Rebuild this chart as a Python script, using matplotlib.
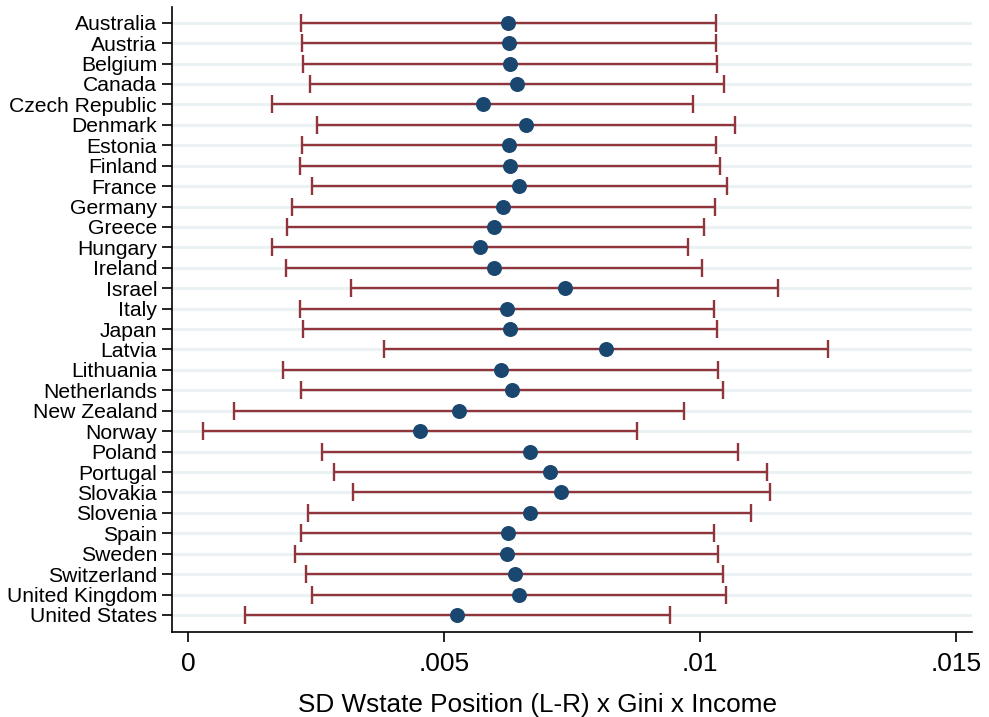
import matplotlib
matplotlib.use("Agg")
import matplotlib.pyplot as plt
import numpy as np

countries = ["Australia", "Austria", "Belgium", "Canada", "Czech Republic", "Denmark",
             "Estonia", "Finland", "France", "Germany", "Greece", "Hungary", "Ireland",
             "Israel", "Italy", "Japan", "Latvia", "Lithuania", "Netherlands",
             "New Zealand", "Norway", "Poland", "Portugal", "Slovakia", "Slovenia",
             "Spain", "Sweden", "Switzerland", "United Kingdom", "United States"]
estimate = [0.006255, 0.006262, 0.006282, 0.006419, 0.005754, 0.006601,
            0.006269, 0.006288, 0.006470, 0.006157, 0.005981, 0.005702, 0.005975,
            0.007357, 0.006229, 0.006282, 0.008165, 0.006110, 0.006321,
            0.005297, 0.004529, 0.006685, 0.007076, 0.007291, 0.006679,
            0.006243, 0.006223, 0.006380, 0.006464, 0.005252]
lower = [0.002203, 0.002216, 0.002242, 0.002385, 0.001636, 0.002516,
         0.002222, 0.002177, 0.002412, 0.002021, 0.001923, 0.001636, 0.001904,
         0.003186, 0.002190, 0.002242, 0.003825, 0.001857, 0.002197,
         0.000893, 0.000281, 0.002619, 0.002842, 0.003213, 0.002334,
         0.002197, 0.002086, 0.002307, 0.002418, 0.001108]
upper = [0.010309, 0.010315, 0.010328, 0.010471, 0.009871, 0.010692,
         0.010321, 0.010393, 0.010536, 0.010289, 0.010074, 0.009761, 0.010047,
         0.011532, 0.010270, 0.010328, 0.012510, 0.010360, 0.010446,
         0.009695, 0.008771, 0.010739, 0.011306, 0.011370, 0.011005,
         0.010282, 0.010354, 0.010458, 0.010510, 0.009410]
xticks = [0, 0.005, 0.01, 0.015]
xticklabels = ["0", ".005", ".01", ".015"]

plt.rcParams['font.family'] = ['Liberation Sans', 'DejaVu Sans']

fig = plt.figure(figsize=(9.89, 7.17), dpi=100)
ax = fig.add_axes([171.7/989, 1 - 631.7/717, (972 - 171.7)/989, (631.7 - 7)/717])

ypos = np.arange(1, len(countries) + 1)
est = np.array(estimate)
lo = np.array(lower)
hi = np.array(upper)

for y in ypos:
    ax.axhline(y, color="#eaf2f3", lw=2.2, zorder=0)

ax.errorbar(est, ypos, xerr=[est - lo, hi - est], fmt="none", ecolor="#90353b",
            elinewidth=1.7, capsize=6.5, capthick=1.7, zorder=2)
ax.plot(est, ypos, "o", color="#1a476f", markersize=10.8, zorder=3, markeredgewidth=0)

ax.set_xlim((171.7 - 188.3) / 51160, (972 - 188.3) / 51160)
ax.set_ylim(30.82, 0.23)
ax.set_yticks(ypos)
ax.set_yticklabels(countries, fontsize=15.2)
ax.set_xticks(xticks)
ax.set_xticklabels(xticklabels, fontsize=19)
ax.tick_params(axis="y", length=7.5, width=1.2, pad=3, colors="black")
ax.tick_params(axis="x", length=7.5, width=1.2, pad=7)
ax.spines["top"].set_visible(False)
ax.spines["right"].set_visible(False)
ax.spines["left"].set_linewidth(1.2)
ax.spines["bottom"].set_linewidth(1.2)
ax.set_xlabel("SD Wstate Position (L-R) x Gini x Income", fontsize=18.8, labelpad=10)
ax.xaxis.set_label_coords(0.4565, -0.098)

fig.savefig("out.png", dpi=100)
